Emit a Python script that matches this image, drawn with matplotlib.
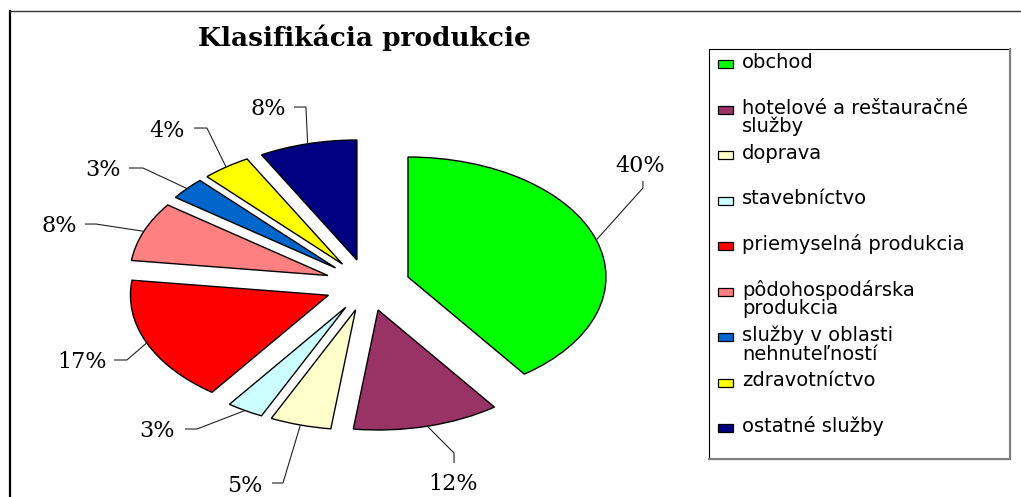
import textwrap
import matplotlib
matplotlib.use("Agg")
import matplotlib.pyplot as plt
from matplotlib.patches import Rectangle
from matplotlib.lines import Line2D
import numpy as np

# ---------------- data ----------------
title = "Klasifikácia produkcie"
categories = ["obchod", "hotelové a reštauračné služby", "doprava", "stavebníctvo",
              "priemyselná produkcia", "pôdohospodárska produkcia",
              "služby v oblasti nehnuteľností", "zdravotníctvo", "ostatné služby"]
shares = [40, 12, 5, 3, 17, 8, 3, 4, 8]
colors = ["#00FF00", "#993366", "#FFFFCC", "#CCFFFF", "#FF0000",
          "#FF8080", "#0066CC", "#FFFF00", "#000080"]

# ---------------- layout ----------------
W, H = 1021, 497
fig = plt.figure(figsize=(W / 100, H / 100), dpi=100)
fig.patch.set_facecolor("white")

# pie geometry in pixels (ellipse: rx, ry), centre (cx, cy) from top-left
cx, cy, rx, ry = 367.5, 285.0, 198.0, 120.0
ax = fig.add_axes([0, 0, 1, 1])
wedges, _ = ax.pie(shares, colors=colors, startangle=90, counterclock=False,
                   explode=[0.215] * len(shares), radius=1.0,
                   wedgeprops=dict(edgecolor="black", linewidth=1.0))
ax.set_aspect("auto")
ax.set_xlim(-cx / rx, (W - cx) / rx)
ax.set_ylim(-(H - cy) / ry, cy / ry)
ax.axis("off")

# label layout: elbow point, tail end, text anchor (data units), alignment
label_layout = [
    ((1.391, 0.808), (1.391, 0.867), (1.376, 0.942), "center"),
    ((0.437, -1.400), (0.437, -1.483), (0.434, -1.708), "center"),
    ((-0.427, -1.650), (-0.482, -1.650), (-0.528, -1.725), "right"),
    ((-0.861, -1.200), (-0.922, -1.200), (-0.972, -1.267), "right"),
    ((-1.215, -0.625), (-1.280, -0.625), (-1.315, -0.692), "right"),
    ((-1.371, 0.508), (-1.427, 0.508), (-1.467, 0.442), "right"),
    ((-1.134, 0.975), (-1.205, 0.975), (-1.245, 0.908), "right"),
    ((-0.811, 1.308), (-0.876, 1.308), (-0.922, 1.233), "right"),
    ((-0.311, 1.483), (-0.371, 1.483), (-0.412, 1.417), "right"),
]

for w, val, (elbow, tail, txy, ha) in zip(wedges, shares, label_layout):
    ang = np.deg2rad((w.theta1 + w.theta2) / 2)
    x0 = w.center[0] + w.r * np.cos(ang)
    y0 = w.center[1] + w.r * np.sin(ang)
    ax.plot([x0, elbow[0], tail[0]], [y0, elbow[1], tail[1]],
            color="#222222", lw=0.8, solid_capstyle="butt", clip_on=False)
    ax.text(txy[0], txy[1], f"{val}%", ha=ha, va="baseline",
            fontsize=16, family="DejaVu Serif", color="black")

# ---------------- title ----------------
def fx(px):
    return px / W

def fy(py):
    return 1 - py / H

fig.text(fx(364.5), fy(46), title, ha="center", va="baseline",
         fontsize=19, fontweight="bold", family="DejaVu Serif")

# ---------------- outer border ----------------
fig.add_artist(Line2D([fx(10), fx(10)], [fy(11), fy(H)], color="black", lw=1.6))
fig.add_artist(Line2D([fx(10), fx(W)], [fy(11), fy(11)], color="#333333", lw=1.0))

# ---------------- legend ----------------
lx0, lx1, ly0, ly1 = 709, 1010, 49, 459
fig.add_artist(Rectangle((fx(lx0), fy(ly1)), (lx1 - lx0) / W, (ly1 - ly0) / H,
                         transform=fig.transFigure, facecolor="white",
                         edgecolor="black", lw=0.8))
fig.add_artist(Line2D([fx(lx1), fx(lx1), fx(lx0)], [fy(ly0), fy(ly1), fy(ly1)],
                      color="#808080", lw=1.5))

base0, step, line_gap = 68, 45.5, 19
for i, (name, col) in enumerate(zip(categories, colors)):
    b = base0 + i * step
    fig.add_artist(Rectangle((fx(718), fy(b)), 15 / W, 8 / H,
                             transform=fig.transFigure, facecolor=col,
                             edgecolor="black", lw=0.9))
    for k, line in enumerate(textwrap.wrap(name, 22)):
        fig.text(fx(742), fy(b + k * line_gap), line, ha="left", va="baseline",
                 fontsize=14, family="DejaVu Sans")

fig.savefig("out.png", dpi=100, facecolor="white")
